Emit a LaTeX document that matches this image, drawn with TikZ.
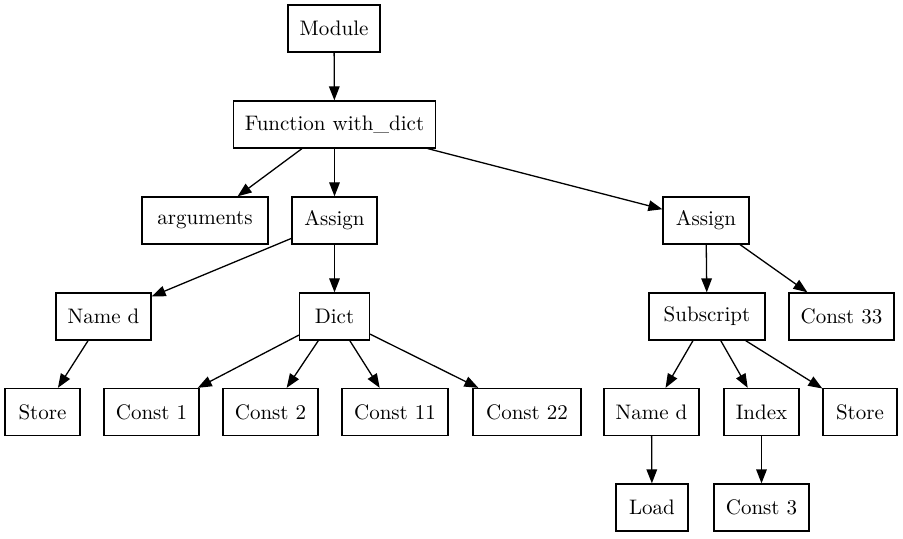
\documentclass[tikz,border=0pt]{standalone}
\usepackage{tikz}
\usetikzlibrary{arrows.meta}

\tikzset{box/.style={draw,rectangle,line width=0.65pt,minimum height=23.5pt,minimum width=35pt,inner xsep=5.5pt,font=\fontsize{10.5}{12}\selectfont}}

\begin{document}
\begin{tikzpicture}[line cap=round,>={Triangle[length=7pt,width=5.3pt]},x=0.5pt,y=-0.5pt]
\useasboundingbox (0,0) rectangle (903,539);
% nodes, row by row
\node[box,minimum width=46pt] (mod) at (334,28.5) {Module};
\node[box,minimum width=99.5pt] (func) at (334.5,124.5) {Function with\_dict};
\node[box,minimum width=63pt] (args) at (205,220.5) {arguments};
\node[box,minimum width=42.5pt] (asg1) at (334.5,220.5) {Assign};
\node[box,minimum width=43pt] (asg2) at (706,220.5) {Assign};
\node[box,minimum width=47.5pt] (named1) at (103.5,316.5) {Name d};
\node[box] (dict) at (334.5,316.5) {Dict};
\node[box,minimum width=58pt] (subs) at (707,316.5) {Subscript};
\node[box,minimum width=52.5pt] (c33) at (841.5,316.5) {Const 33};
\node[box,minimum width=37.5pt] (store1) at (42.5,412) {Store};
\node[box,minimum width=47.5pt] (c1) at (151.5,412) {Const 1};
\node[box,minimum width=47.5pt] (c2) at (270.5,412) {Const 2};
\node[box,minimum width=53pt] (c11) at (395,412) {Const 11};
\node[box,minimum width=54pt] (c22) at (527,412) {Const 22};
\node[box,minimum width=47.5pt] (named2) at (651.5,412) {Name d};
\node[box,minimum width=37.5pt] (idx) at (761.5,412) {Index};
\node[box,minimum width=37pt] (store2) at (860,412) {Store};
\node[box,minimum width=36pt] (load) at (652,507.5) {Load};
\node[box,minimum width=47.5pt] (c3) at (761.5,507.5) {Const 3};
% edges
\draw[->,line width=0.65pt] (mod)--(func);
\draw[->,line width=0.65pt] (func)--(args);
\draw[->,line width=0.65pt] (func)--(asg1);
\draw[->,line width=0.65pt] (func)--(asg2);
\draw[->,line width=0.65pt] (asg1)--(named1);
\draw[->,line width=0.65pt] (asg1)--(dict);
\draw[->,line width=0.65pt] (asg2)--(subs);
\draw[->,line width=0.65pt] (asg2)--(c33);
\draw[->,line width=0.65pt] (named1)--(store1);
\draw[->,line width=0.65pt] (dict)--(c1);
\draw[->,line width=0.65pt] (dict)--(c2);
\draw[->,line width=0.65pt] (dict)--(c11);
\draw[->,line width=0.65pt] (dict)--(c22);
\draw[->,line width=0.65pt] (subs)--(named2);
\draw[->,line width=0.65pt] (subs)--(idx);
\draw[->,line width=0.65pt] (subs)--(store2);
\draw[->,line width=0.65pt] (named2)--(load);
\draw[->,line width=0.65pt] (idx)--(c3);
\end{tikzpicture}
\end{document}
